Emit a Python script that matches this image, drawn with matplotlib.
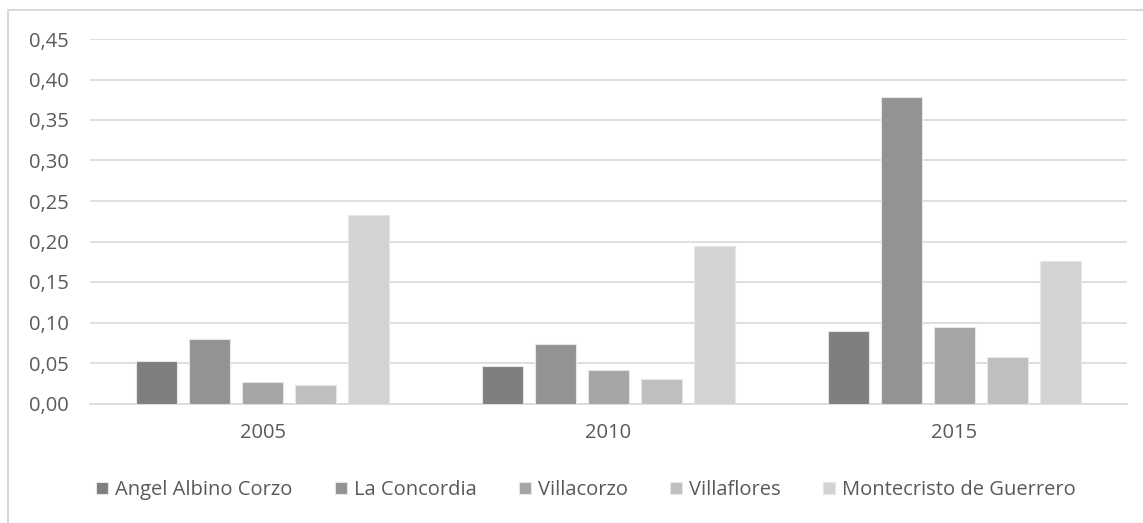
import matplotlib
matplotlib.use("Agg")
import matplotlib.pyplot as plt
from matplotlib.patches import Rectangle
from matplotlib.ticker import FuncFormatter
import numpy as np

# ─────────────── DATOS ───────────────
years = ["2005", "2010", "2015"]
municipios = ["Angel Albino Corzo", "La Concordia", "Villacorzo",
              "Villaflores", "Montecristo de Guerrero"]
angel = [0.053, 0.046, 0.089]
concordia = [0.080, 0.073, 0.379]
villacorzo = [0.026, 0.041, 0.095]
villaflores = [0.023, 0.030, 0.057]
montecristo = [0.233, 0.195, 0.176]
series = [angel, concordia, villacorzo, villaflores, montecristo]
colores = ["#7f7f7f", "#939393", "#a5a5a5", "#bfbfbf", "#d3d3d3"]

TXT = "#595959"
GRID = "#d9d9d9"
plt.rcParams["font.family"] = ["Open Sans", "DejaVu Sans"]

fig = plt.figure(figsize=(11.43, 5.23), dpi=100)
# marco exterior del gráfico (como en Excel)
fig.patches.append(Rectangle((8 / 1143, -0.05), 1.2, 1.05 - 10 / 523,
                             transform=fig.transFigure, fill=False,
                             edgecolor=GRID, linewidth=1.5))

ax = fig.add_axes([90 / 1143, 119.5 / 523, 1037 / 1143, 364.5 / 523])

x = np.arange(len(years))
paso = 53 / 346
ancho = 41 / 346
for i, (vals, nombre, col) in enumerate(zip(series, municipios, colores)):
    ax.bar(x + (i - 2) * paso, vals, width=ancho, color=col, label=nombre,
           edgecolor="#e6e6e6", linewidth=0.8, zorder=3)

ax.set_xlim(-0.5, 2.5)
ax.set_ylim(0, 0.45)
ax.set_yticks(np.arange(0, 0.451, 0.05))
ax.yaxis.set_major_formatter(FuncFormatter(lambda v, p: f"{v:.2f}".replace(".", ",")))
ax.set_xticks(x)
ax.set_xticklabels(years)
ax.grid(axis="y", color=GRID, linewidth=1.2, zorder=0)
for s in ["top", "right", "left"]:
    ax.spines[s].set_visible(False)
ax.spines["bottom"].set_color(GRID)
ax.spines["bottom"].set_linewidth(1.2)
ax.tick_params(length=0, colors=TXT, labelsize=14.5)
ax.tick_params(axis="y", pad=15)
ax.tick_params(axis="x", pad=14)

fig.legend(loc="center", bbox_to_anchor=(586 / 1143, 1 - 490 / 523), ncol=5,
           frameon=False, fontsize=14.5, labelcolor=TXT,
           handlelength=0.6, handleheight=0.6, handletextpad=0.35,
           columnspacing=2.1)

fig.savefig("out.png", dpi=100, facecolor="white")
